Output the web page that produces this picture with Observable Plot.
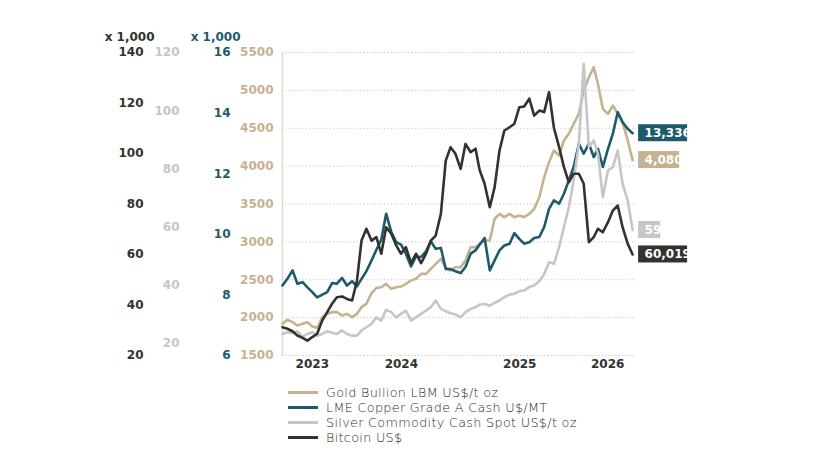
<!DOCTYPE html>
<html><head><meta charset="utf-8">
<script src="https://cdn.jsdelivr.net/npm/d3@7"></script>
<script src="https://cdn.jsdelivr.net/npm/@observablehq/plot@0.6"></script>
<style>
body{margin:0;background:#fff;}
#legend{margin-left:288px;font-family:"DejaVu Sans",sans-serif;font-size:12.8px;letter-spacing:0.3px;color:#2a2a2a;font-weight:300;}
.row{display:flex;align-items:center;height:15px;line-height:15px;white-space:nowrap;}
.sw{width:30px;height:3px;margin-right:8px;flex:none;}
</style></head><body>
<div id="chart"></div>
<div id="legend"></div>
<script>
// ---- data (semi-monthly samples, 1st and 16th of each month, Jul 2023 – Jun 2026) ----
const dates = [];
for (const m of d3.utcMonth.range(new Date(Date.UTC(2023,6,1)), new Date(Date.UTC(2026,6,1)))) {
  dates.push(m, d3.utcDay.offset(m, 15));
}
const gold = [1918,1971,1940,1896,1918,1940,1883,1865,2006,2050,2072,2072,2028,2050,2006,2050,2138,2182,2323,2393,2402,2446,2380,2402,2410,2446,2490,2512,2578,2578,2644,2710,2776,2657,2622,2666,2666,2754,2930,2930,2974,3018,3018,3304,3370,3326,3370,3326,3348,3326,3370,3436,3590,3854,4052,4206,4140,4338,4426,4558,4690,4998,5174,5306,5086,4756,4690,4800,4690,4580,4338,4080];
const copper = [8310,8530,8810,8370,8420,8250,8090,7920,8010,8090,8390,8370,8560,8310,8450,8280,8530,8780,9140,9490,9820,10680,10070,9740,9660,9360,8940,9270,9250,9440,9770,9520,9550,8860,8850,8780,8720,8920,9360,9470,9660,9880,8810,9140,9470,9630,9690,10040,9850,9690,9740,9880,9910,10240,10840,11120,11010,11340,11780,12220,12990,12660,12990,12550,12820,12220,12820,13320,14030,13700,13480,13336];
const silver = [23.3,23.9,23.6,24.2,22.4,23.3,23.9,22.7,23.3,24.2,23.7,23.3,24.5,23.3,22.7,22.7,24.5,25.6,26.8,29.0,27.9,31.6,30.8,29.0,30.2,31.3,27.9,29.0,30.2,31.3,32.5,34.8,31.9,31.1,30.4,30.0,29.0,30.8,31.9,32.5,33.4,33.6,33.0,34.0,34.8,35.9,36.8,37.1,38.0,38.2,39.4,39.9,41.4,43.9,47.9,47.4,53.1,60.0,66.8,76.0,88.6,116.1,87.5,89.8,85.2,70.3,79.5,80.6,86.3,74.9,69.1,59];
const bitcoin = [31200,30600,29600,27900,27000,25900,27300,28600,33900,37200,40500,43100,43400,42400,41800,49700,65500,70200,65500,66900,60300,70800,68200,63600,60300,62900,56600,60300,56600,60300,65500,67500,76100,97200,102500,99900,93900,103800,100500,101900,93300,88000,78700,86700,101200,109100,110400,111800,118300,118600,121700,115000,117000,116400,124300,110200,102500,94600,88600,92000,92000,88000,64900,66900,70200,68800,72800,77400,79400,70800,64200,60019];

const goldTicks = [1500,2000,2500,3000,3500,4000,4500,5000,5500];
const copperTicks = [6,8,10,12,14,16];        // x 1,000
const silverTicks = [20,40,60,80,100,120];
const bitcoinTicks = [20,40,60,80,100,120,140]; // x 1,000
const years = [2023,2024,2025,2026];
const seriesNames = ["Gold Bullion LBM US$/t oz","LME Copper Grade A Cash U$/MT","Silver Commodity Cash Spot US$/t oz","Bitcoin US$"];

// ---- styles ----
const C = {gold:"#c4b291", copper:"#1d5a6c", silver:"#c6c6c6", bitcoin:"#33322e", grid:"#c4c4c4", frame:"#e2d9cb"};

// each series is drawn against the gold axis (1500–5500) after mapping its own axis onto it
const toY = {
  gold: v => v,
  copper: v => 1500 + (v/1000 - 6) / 10 * 4000,
  silver: v => 5500 - (120 - v) * 38.42,
  bitcoin: v => 1500 + (v/1000 - 20) / 120 * 4000
};
const raw = {gold, copper, silver, bitcoin};
const keys = ["gold","copper","silver","bitcoin"];
const rows = k => dates.map((d,i) => ({date:d, value:raw[k][i], y:toY[k](raw[k][i])}));

const xDomain = [new Date(Date.UTC(2023,6,1)), new Date(Date.UTC(2026,5,28))];
const yearCenters = years.map(y => {
  const a = Math.max(+xDomain[0], Date.UTC(y,0,1)), b = Math.min(+xDomain[1], Date.UTC(y+1,0,1));
  return new Date((a+b)/2);
});

const fmt = d3.format(",");
const endLabels = [
  {k:"copper", w:49}, {k:"gold", w:41}, {k:"silver", w:22}, {k:"bitcoin", w:49}
].map(o => {const r = rows(o.k).at(-1); return {...o, ...r, text: fmt(r.value)};});

const marks = [
  Plot.gridY(goldTicks, {stroke:C.grid, strokeOpacity:1, strokeDasharray:"1.2,2.2"}),
  Plot.ruleX([xDomain[0]], {stroke:C.frame, strokeWidth:1.5}),
  ...["gold","copper","silver","bitcoin"].map(k => Plot.line(rows(k), {x:"date", y:"y", stroke:C[k], strokeWidth:2.6, strokeLinejoin:"round"})),
  Plot.axisY(goldTicks, {anchor:"left", tickSize:0, tickPadding:9, color:C.gold, tickFormat:d3.format("d"), label:null}),
  Plot.text(copperTicks, {y: d => toY.copper(d*1000), text: d => String(d), frameAnchor:"left", dx:-52, textAnchor:"end", fill:C.copper}),
  Plot.text(silverTicks, {y: d => toY.silver(d), text: d => String(d), frameAnchor:"left", dx:-103, textAnchor:"end", fill:C.silver}),
  Plot.text(bitcoinTicks, {y: d => toY.bitcoin(d*1000), text: d => String(d), frameAnchor:"left", dx:-139, textAnchor:"end", fill:C.bitcoin}),
  Plot.text(["x 1,000"], {frameAnchor:"top-left", lineAnchor:"middle", dx:-128, dy:-15, textAnchor:"end", fill:C.bitcoin}),
  Plot.text(["x 1,000"], {frameAnchor:"top-left", lineAnchor:"middle", dx:-42, dy:-15, textAnchor:"end", fill:C.copper}),
  Plot.axisX(yearCenters, {tickSize:0, tickPadding:4, tickFormat:"%Y", color:C.bitcoin, label:null}),
  ...endLabels.map(o => Plot.rect([o], {x1:"date", x2:"date", y1:"y", y2:"y", fill:C[o.k], insetLeft:6, insetRight:-6-o.w, insetTop:-8.5, insetBottom:-8.5})),
  Plot.text(endLabels, {x:"date", y:"y", text:"text", dx:12, textAnchor:"start", fill:"white"})
];

const chart = Plot.plot({
  width: 730, height: 385,
  marginLeft: 282, marginRight: 94, marginTop: 52, marginBottom: 30,
  x: {type:"utc", domain: xDomain, axis:null},
  y: {domain:[1500,5500], axis:null},
  style: {fontFamily:"'DejaVu Sans', sans-serif", fontSize:"12px", fontWeight:"bold", background:"transparent"},
  marks
});
document.getElementById("chart").append(chart);

const legend = document.getElementById("legend");
keys.forEach((k,i) => {
  const row = document.createElement("div"); row.className = "row";
  const sw = document.createElement("div"); sw.className = "sw"; sw.style.background = C[k];
  const t = document.createElement("span"); t.textContent = seriesNames[i];
  row.append(sw, t); legend.append(row);
});
</script>
</body></html>
